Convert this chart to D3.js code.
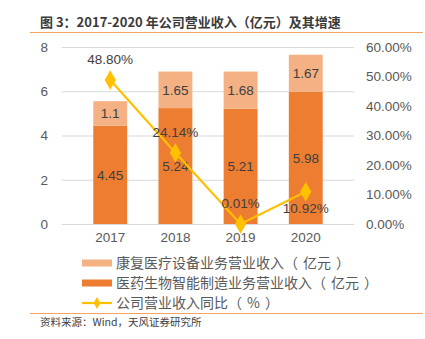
<!DOCTYPE html>
<html>
<head>
<meta charset="utf-8">
<script src="https://cdn.jsdelivr.net/npm/d3@7"></script>
<style>
  body { margin: 0; background: #fff; }
  svg { font-family: "Liberation Sans", "Noto Sans CJK SC", sans-serif; }
</style>
</head>
<body>
<svg id="chart" width="425" height="339"></svg>
<script>
// revenue by year, 亿元, and yoy growth
const years = ['2017', '2018', '2019', '2020']
const pharmaRevenue = [4.45, 5.24, 5.21, 5.98]
const rehabRevenue = [1.1, 1.65, 1.68, 1.67]
const growthPct = [48.80, 24.14, 0.01, 10.92]
const leftTicks = [0, 2, 4, 6, 8]
const rightTicks = [0, 10, 20, 30, 40, 50, 60]
const seriesNames = ['康复医疗设备业务营业收入（亿元）', '医药生物智能制造业务营业收入（亿元）', '公司营业收入同比（%）']

const cDark = '#ED7D31', cLight = '#F4B183', cLine = '#FFC000'
const cjk = '"Noto Sans CJK SC", sans-serif'

const svg = d3.select('#chart')

// legend text with a little air inside the full-width brackets
function bracketText(sel, str, pad) {
  let gap = 0
  str.split(/([（）])/).filter(s => s).forEach(part => {
    const t = sel.append('tspan').text(part)
    if (part === '（') { t.attr('dx', gap); gap = pad }
    else if (part === '）') { t.attr('dx', pad); gap = pad / 2 }
    else { t.attr('dx', gap); gap = 0 }
  })
  return sel
}

const x = d3.scaleBand().domain(years).range([62, 354]).padding(0.48)
const y = d3.scaleLinear().domain([0, 8]).range([224, 47])
const y2 = d3.scaleLinear().domain([0, 60]).range([224, 47])

// title and frame lines
svg.append('text')
  .attr('x', 40).attr('y', 27)
  .attr('font-family', cjk).attr('font-size', 13).attr('font-weight', 'bold')
  .attr('fill', '#3a3a3a')
  .text('图 3：2017-2020 年公司营业收入（亿元）及其增速')

svg.append('line').attr('x1', 30).attr('x2', 423).attr('y1', 32.5).attr('y2', 32.5)
  .attr('stroke', '#F4A460').attr('stroke-width', 1.2)
svg.append('line').attr('x1', 30).attr('x2', 423).attr('y1', 313.5).attr('y2', 313.5)
  .attr('stroke', '#F4A460').attr('stroke-width', 1.2)

// grid
svg.append('g').selectAll('line').data(leftTicks).enter().append('line')
  .attr('x1', 62).attr('x2', 354)
  .attr('y1', d => y(d) + 0.5).attr('y2', d => y(d) + 0.5)
  .attr('stroke', '#D9D9D9').attr('stroke-width', 1.2)

// left axis
const leftAxis = svg.append('g').attr('transform', 'translate(54,0)')
  .call(d3.axisLeft(y).tickValues(leftTicks).tickSize(0).tickPadding(6))
leftAxis.select('.domain').remove()
leftAxis.selectAll('text').attr('font-size', 13.5).attr('fill', '#595959')
  .attr('font-family', 'Liberation Sans, sans-serif')

// right axis
const rightAxis = svg.append('g').attr('transform', 'translate(360,0)')
  .call(d3.axisRight(y2).tickValues(rightTicks).tickSize(0).tickPadding(6)
    .tickFormat(d => d.toFixed(2) + '%'))
rightAxis.select('.domain').remove()
rightAxis.selectAll('text').attr('font-size', 13.5).attr('fill', '#595959')
  .attr('font-family', 'Liberation Sans, sans-serif')

// bottom axis labels
const bottomAxis = svg.append('g').attr('transform', 'translate(0,226)')
  .call(d3.axisBottom(x).tickSize(0).tickPadding(6))
bottomAxis.select('.domain').remove()
bottomAxis.selectAll('text').attr('font-size', 13.5).attr('fill', '#595959')
  .attr('font-family', 'Liberation Sans, sans-serif')

// stacked bars
const rows = years.map((yr, i) => ({ year: yr, pharma: pharmaRevenue[i], rehab: rehabRevenue[i], growth: growthPct[i] }))
const stack = d3.stack().keys(['pharma', 'rehab'])(rows)
const colors = { pharma: cDark, rehab: cLight }

const layers = svg.append('g').selectAll('g').data(stack).enter().append('g')
  .attr('fill', d => colors[d.key])
layers.selectAll('rect').data(d => d).enter().append('rect')
  .attr('x', d => x(d.data.year))
  .attr('y', d => y(d[1]))
  .attr('width', x.bandwidth())
  .attr('height', d => y(d[0]) - y(d[1]))

// value labels inside bars
layers.selectAll('text').data(d => d.map(v => ({ key: d.key, v }))).enter().append('text')
  .attr('x', d => x(d.v.data.year) + x.bandwidth() / 2)
  .attr('y', d => (y(d.v[0]) + y(d.v[1])) / 2 + 5)
  .attr('text-anchor', 'middle')
  .attr('font-size', 13.5).attr('fill', '#404040')
  .text(d => d.v.data[d.key])

// growth line
const cx = d => x(d.year) + x.bandwidth() / 2
svg.append('path').datum(rows)
  .attr('fill', 'none').attr('stroke', cLine).attr('stroke-width', 2.2)
  .attr('d', d3.line().x(cx).y(d => y2(d.growth)))

svg.append('g').selectAll('path').data(rows).enter().append('path')
  .attr('transform', d => `translate(${cx(d)},${y2(d.growth)})`)
  .attr('d', d3.symbol().type(d3.symbolDiamond).size(110))
  .attr('fill', cLine)

svg.append('g').selectAll('text').data(rows).enter().append('text')
  .attr('x', cx)
  .attr('y', (d, i) => y2(d.growth) + (i === 3 ? 21 : -16))
  .attr('text-anchor', 'middle')
  .attr('font-size', 13.5).attr('fill', '#404040')
  .text(d => d.growth.toFixed(2) + '%')

// legend
const legend = svg.append('g').attr('transform', 'translate(82,263)')
seriesNames.forEach((name, i) => {
  const g = legend.append('g').attr('transform', `translate(0,${i * 20})`)
  if (i < 2) {
    g.append('rect').attr('x', 0).attr('y', -3.5).attr('width', 30).attr('height', 7)
      .attr('fill', i === 0 ? cLight : cDark)
  } else {
    g.append('line').attr('x1', 0).attr('x2', 30).attr('y1', 0).attr('y2', 0)
      .attr('stroke', cLine).attr('stroke-width', 2.2)
    g.append('path').attr('transform', 'translate(15,0)')
      .attr('d', d3.symbol().type(d3.symbolDiamond).size(40)).attr('fill', cLine)
  }
  bracketText(g.append('text').attr('x', 34).attr('y', 5)
    .attr('font-family', cjk).attr('font-size', 14).attr('fill', '#595959'), name, 5)
})

// source note
svg.append('text')
  .attr('x', 40).attr('y', 326)
  .attr('font-family', cjk).attr('font-size', 10.5).attr('fill', '#404040')
  .text('资料来源：Wind，天风证券研究所')
</script>
</body>
</html>
